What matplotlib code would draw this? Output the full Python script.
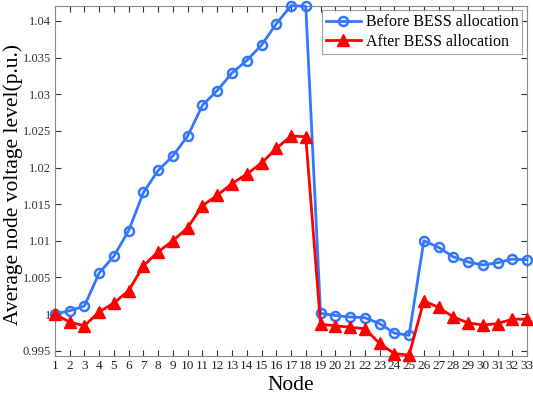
import matplotlib
matplotlib.use("Agg")
import matplotlib.pyplot as plt

nodes = list(range(1, 34))
before_bess = [1.0000, 1.00045, 1.0011, 1.0056, 1.0079, 1.0114, 1.0166, 1.0196, 1.0216,
               1.0243, 1.0285, 1.0305, 1.0329, 1.0346, 1.0367, 1.0396, 1.0421, 1.0420,
               1.0001, 0.9998, 0.9996, 0.9995, 0.9987, 0.9974, 0.9971, 1.0100, 1.0091,
               1.0078, 1.0071, 1.0067, 1.0070, 1.0075, 1.0074]
after_bess = [1.0000, 0.9989, 0.9984, 1.0003, 1.0015, 1.0032, 1.0066, 1.0085, 1.0100,
              1.0118, 1.0148, 1.0162, 1.0178, 1.0191, 1.0206, 1.0226, 1.0243, 1.0242,
              0.9986, 0.9984, 0.9982, 0.9980, 0.9960, 0.9946, 0.9944, 1.0018, 1.0009,
              0.9996, 0.9988, 0.9985, 0.9987, 0.9993, 0.9993]
y_ticks = [0.995, 1.0, 1.005, 1.01, 1.015, 1.02, 1.025, 1.03, 1.035, 1.04]
y_tick_labels = ["0.995", "1", "1.005", "1.01", "1.015", "1.02", "1.025", "1.03", "1.035", "1.04"]

plt.rcParams["font.family"] = ["Liberation Serif", "DejaVu Serif"]

fig = plt.figure(figsize=(5.33, 3.98), dpi=100)
ax = fig.add_axes([0.103, 0.106, 0.886, 0.880])

ax.plot(nodes, before_bess, color="#3377FF", lw=2, marker="o", ms=6.5,
        mfc="none", mew=1.8, label="Before BESS allocation", clip_on=False, zorder=3)
ax.plot(nodes, after_bess, color="#FF0000", lw=2, marker="^", ms=8,
        label="After BESS allocation", clip_on=False, zorder=3)

ax.set_xlim(1, 33)
ax.set_ylim(0.9943, 1.0421)
ax.set_xticks(nodes)
ax.set_yticks(y_ticks)
ax.set_yticklabels(y_tick_labels)
ax.tick_params(direction="in", top=True, right=True, labelsize=9.5,
               colors="#333333", length=4, width=0.8, pad=3)
ax.tick_params(axis="y", labelsize=9)
ax.tick_params(axis="x", labelcolor="#222222")
for sp in ax.spines.values():
    sp.set_color("#888888")
    sp.set_linewidth(0.8)

ax.set_xlabel("Node", fontsize=15.5, labelpad=3)
ax.set_ylabel("Average node voltage level(p.u.)", fontsize=15.5)
ax.yaxis.set_label_coords(-0.068, 0.49)

leg = ax.legend(loc="upper right", fontsize=11.5, frameon=True, fancybox=False,
                borderpad=0.25, handlelength=2.2, labelspacing=0.2,
                handletextpad=0.3, borderaxespad=0.3)
leg.get_frame().set_edgecolor("#888888")
leg.get_frame().set_linewidth(0.8)

fig.savefig("out.png", dpi=100)
plt.close(fig)
